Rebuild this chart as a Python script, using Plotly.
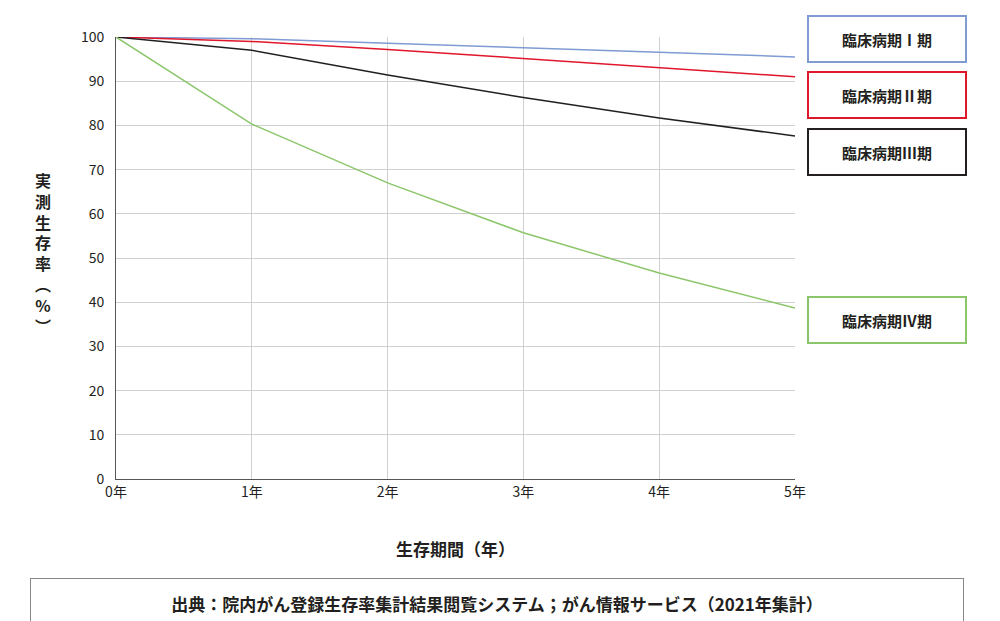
import plotly.graph_objects as go

years = [0, 1, 2, 3, 4, 5]
year_labels = ["0年", "1年", "2年", "3年", "4年", "5年"]
stage1 = [100, 99.6, 98.6, 97.6, 96.5, 95.5]
stage2 = [100, 99.0, 97.2, 95.1, 93.0, 91.0]
stage3 = [100, 97.0, 91.4, 86.3, 81.7, 77.6]
stage4 = [100, 80.3, 67.0, 55.7, 46.6, 38.7]
names = ["臨床病期Ⅰ期", "臨床病期Ⅱ期", "臨床病期Ⅲ期", "臨床病期Ⅳ期"]
colors = ["#7f9bd3", "#e0162b", "#231f20", "#8cc66b"]
label_y = [31, 87, 144, 312]  # pixel centres of the label boxes

FONT = "Noto Sans CJK JP"
fig = go.Figure()
for vals, c in zip([stage1, stage2, stage3, stage4], colors):
    fig.add_trace(go.Scatter(x=years, y=vals, mode="lines",
                             line=dict(color=c, width=1.5), showlegend=False))

bottom, h, w = 471, 442, 679
for name, c, py in zip(names, colors, label_y):
    fig.add_annotation(xref="paper", yref="paper", x=(879 - 108) / w,
                       y=(bottom - py) / h, xanchor="center", yanchor="middle",
                       text="<b>" + name + "</b>",
                       showarrow=False, width=154, height=42,
                       bordercolor=c, borderwidth=2, bgcolor="white",
                       font=dict(size=15, color="#231f20"))

fig.add_annotation(xref="paper", yref="paper", x=(35 - 108) / w,
                   y=(bottom - 245) / h, xanchor="center", yanchor="middle",
                   text="<b>" + "<br>".join(list("実測生存率")) + "<br>︵<br>%<br>︶</b>",
                   showarrow=False, font=dict(size=16, color="#231f20"))
fig.add_annotation(xref="paper", yref="paper", x=0.5, y=(bottom - 540) / h,
                   xanchor="center", yanchor="middle",
                   text="<b>生存期間（年）</b>", showarrow=False,
                   font=dict(size=17, color="#231f20"))
fig.add_annotation(xref="paper", yref="paper", x=(489 - 108) / w,
                   y=(bottom - 595) / h, xanchor="center", yanchor="middle",
                   text="<b>出典：院内がん登録生存率集計結果閲覧システム；がん情報サービス（2021年集計）</b>",
                   showarrow=False, width=930, height=46,
                   bordercolor="#888", borderwidth=1,
                   font=dict(size=17, color="#231f20"))

fig.update_xaxes(range=[0, 5], tickvals=years, ticktext=year_labels,
                 showgrid=True, gridcolor="#d0d0d0", showline=True,
                 linecolor="#555", zeroline=False, automargin=False,
                 tickfont=dict(size=14, color="#231f20"))
fig.update_yaxes(range=[0, 100], dtick=10, showgrid=True, gridcolor="#d0d0d0",
                 showline=True, linecolor="#555", zeroline=False,
                 automargin=False, ticklabelstandoff=8,
                 tickfont=dict(size=14, color="#231f20"))
fig.update_layout(width=1000, height=621, plot_bgcolor="white",
                  paper_bgcolor="white", font=dict(family=FONT),
                  margin=dict(l=108, r=213, t=29, b=150))
fig.write_html("out.html")
